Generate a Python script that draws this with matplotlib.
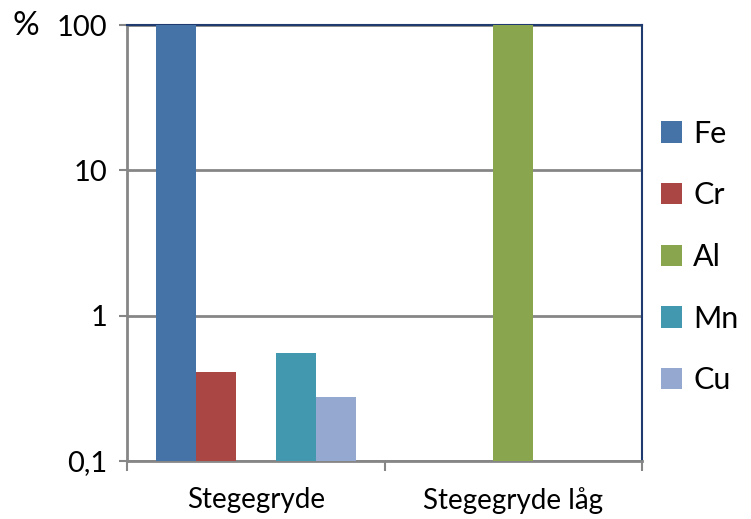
import matplotlib
matplotlib.use("Agg")
import matplotlib.pyplot as plt
from matplotlib.patches import Patch
import numpy as np

categories = ["Stegegryde", "Stegegryde låg"]
series = ["Fe", "Cr", "Al", "Mn", "Cu"]
values = {
    "Fe": [100, 0],
    "Cr": [0.41, 0],
    "Al": [0, 100],
    "Mn": [0.55, 0],
    "Cu": [0.277, 0],
}
colors = {"Fe": "#4572A7", "Cr": "#AA4643", "Al": "#89A54E", "Mn": "#4198AF", "Cu": "#95A9D0"}
yticks = [0.1, 1, 10, 100]
yticklabels = ["0,1", "1", "10", "100"]

plt.rcParams['font.family'] = ['Lato', 'DejaVu Sans']

fig = plt.figure(figsize=(7.51, 5.19), dpi=100)
ax = fig.add_axes([127/751, 1-461/519, (642-127)/751, (461-25)/519])
ax.set_yscale('log')
ax.set_ylim(0.1, 100)
ax.set_xlim(-0.5, 1.5)

base = 0.1
w = 40/258
x = np.arange(len(categories))
for i, s in enumerate(series):
    vals = np.array(values[s], dtype=float)
    for j, v in enumerate(vals):
        if v > base:
            ax.bar(x[j] + (i-2)*w, v - base, width=w, bottom=base, color=colors[s], zorder=3)

ax.set_yticks(yticks)
ax.set_yticklabels(yticklabels, fontsize=21)
ax.yaxis.set_minor_locator(matplotlib.ticker.NullLocator())
ax.tick_params(axis='y', direction='out', length=6, width=1.5, color='#868686', pad=8)
ax.grid(axis='y', color='#868686', linewidth=2, zorder=1)

ax.set_xticks([-0.5, 0.5, 1.5])
ax.set_xticklabels([])
ax.tick_params(axis='x', direction='out', length=7, width=1.5, color='#868686')
for xi, c in zip(x, categories):
    ax.text(xi, -0.09, c, transform=ax.get_xaxis_transform(), ha='center', va='center', fontsize=20)

for side in ['left', 'bottom']:
    ax.spines[side].set_color('#868686')
    ax.spines[side].set_linewidth(2)
for side in ['top', 'right']:
    ax.spines[side].set_color('#1F3A6E')
    ax.spines[side].set_linewidth(1.5)

fig.text(12/751, 1-26/519, "%", fontsize=24, ha='left', va='center')

handles = [Patch(facecolor=colors[s], label=s) for s in series]
leg = fig.legend(handles=handles, loc='center left', bbox_to_anchor=(661/751, 1-257/519),
                 frameon=False, fontsize=22, handlelength=0.69, handleheight=0.69,
                 labelspacing=1.1, handletextpad=0.36, borderpad=0, borderaxespad=0)

fig.savefig("out.png", dpi=100)
